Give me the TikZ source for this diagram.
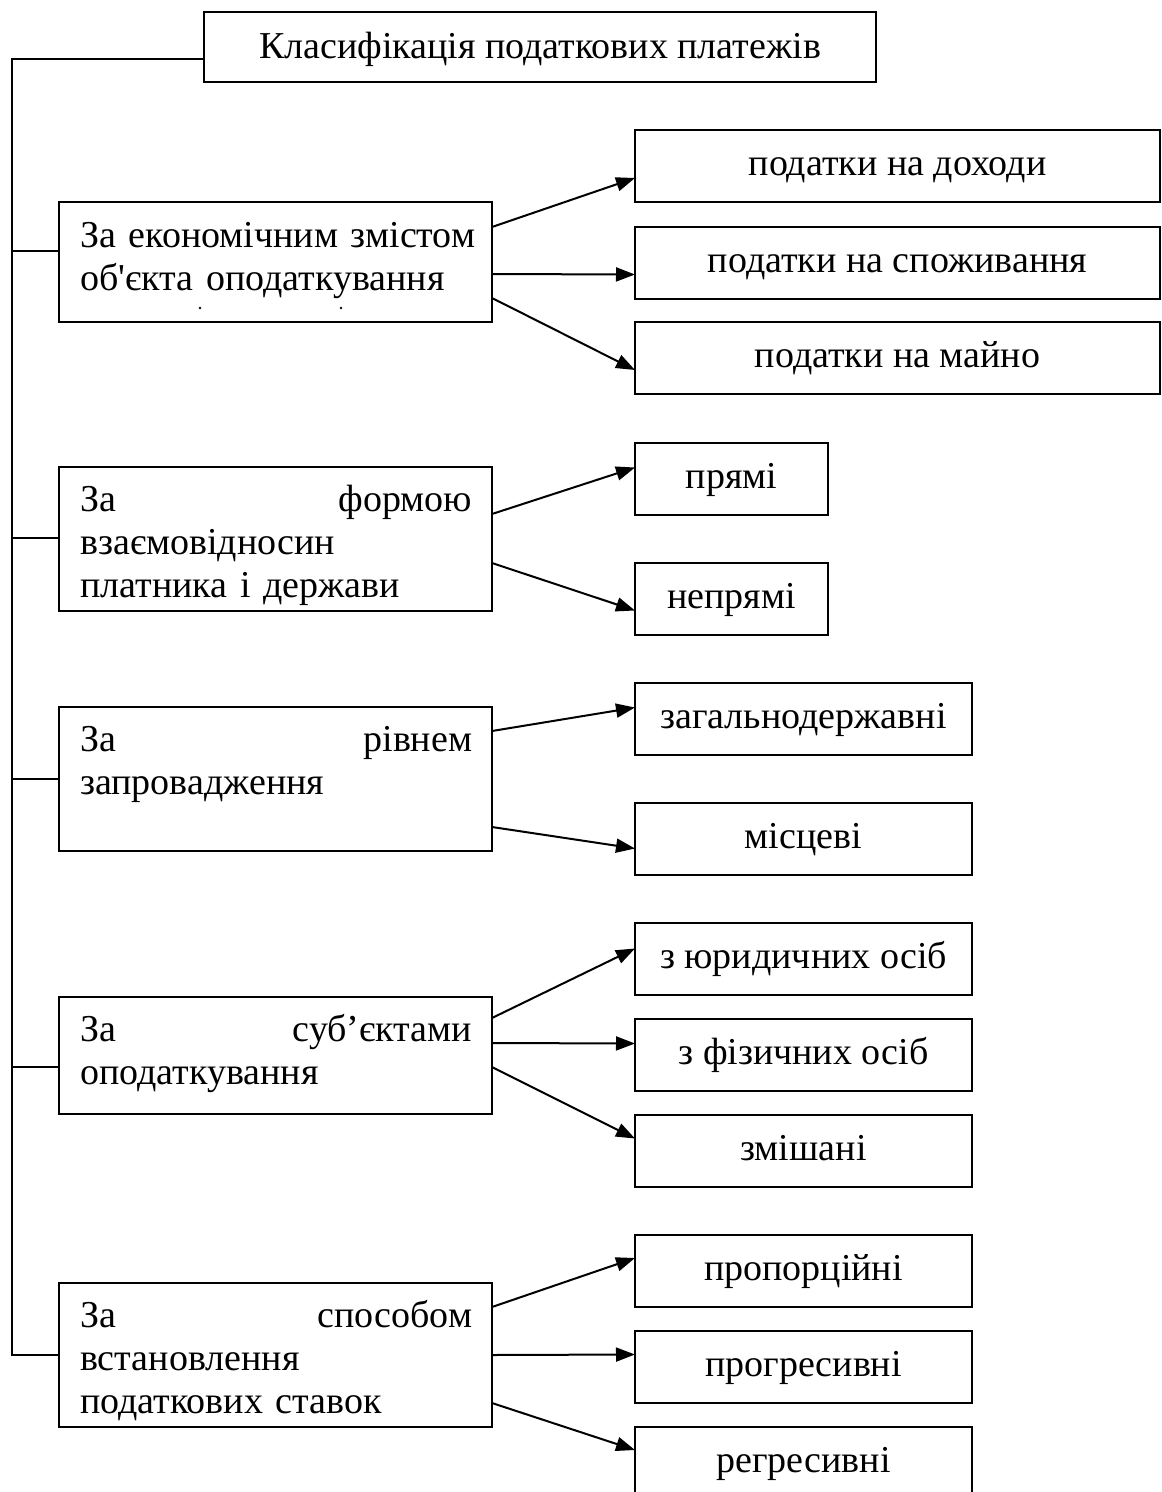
\documentclass[tikz,border=0pt]{standalone}
\usepackage{fontspec}
\setmainfont{Liberation Serif}
\usetikzlibrary{arrows.meta}
\newcommand\fsz{\fontsize{38}{43}\selectfont}
\newcommand\jline[2]{\noindent\hbox to 392pt{#1\hfill #2}}
\begin{document}
\begin{tikzpicture}[x=1pt,y=-1pt,
  boxr/.style={draw, line width=2pt, inner sep=0pt, outer sep=0pt, anchor=north west, font=\fsz, align=center},
  cbox/.style={boxr, minimum width=433pt},
  rbox/.style={boxr, minimum height=72pt, text height=27pt, text depth=9pt},
  ctext/.style={anchor=base west, inner sep=0pt, font=\fsz, text width=392pt, align=left},
  conn/.style={line width=2pt},
  arr/.style={line width=2pt, -{Triangle[length=19pt,width=14pt]}}
]
\useasboundingbox (0,0) rectangle (1162,1492);
\fill[white] (0,0) rectangle (1162,1492);
\clip (0,0) rectangle (1162,1492);

% title
\node[boxr, minimum width=672pt, minimum height=70pt, text height=29pt, text depth=7pt] (top) at (204,12) {Класифікація податкових платежів};

% category boxes
\node[cbox, minimum height=120pt] (c1) at (59,202) {};
\node[cbox, minimum height=144pt] (c2) at (59,467) {};
\node[cbox, minimum height=144pt] (c3) at (59,707) {};
\node[cbox, minimum height=117pt] (c4) at (59,997) {};
\node[cbox, minimum height=144pt] (c5) at (59,1283) {};

\node[ctext] (c1t) at (80,247) {\noindent\hbox to 388pt{За економічним змістом}\\об\textquotesingle єкта оподаткування};
\node[ctext] (c2t) at (80,511) {\jline{За}{формою}\\взаємовідносин\\платника і держави};
\node[ctext] (c3t) at (80,751) {\jline{За}{рівнем}\\запровадження};
\node[ctext] (c4t) at (80,1041) {\jline{За}{суб’єктами}\\оподаткування};
\node[ctext] (c5t) at (80,1327) {\jline{За}{способом}\\встановлення\\податкових ставок};
\fill (200,308) circle (1.4pt);
\fill (341,308) circle (1.4pt);

% right boxes
\node[rbox, minimum width=525pt] (r11) at (635,130) {податки на доходи};
\node[rbox, minimum width=525pt] (r12) at (635,227) {податки на споживання};
\node[rbox, minimum width=525pt] (r13) at (635,322) {податки на майно};
\node[rbox, minimum width=193pt] (r21) at (635,443) {прямі};
\node[rbox, minimum width=193pt] (r22) at (635,563) {непрямі};
\node[rbox, minimum width=337pt] (r31) at (635,683) {загальнодержавні};
\node[rbox, minimum width=337pt] (r32) at (635,803) {місцеві};
\node[rbox, minimum width=337pt] (r41) at (635,923) {з юридичних осіб};
\node[rbox, minimum width=337pt] (r42) at (635,1019) {з фізичних осіб};
\node[rbox, minimum width=337pt] (r43) at (635,1115) {змішані};
\node[rbox, minimum width=337pt] (r51) at (635,1235) {пропорційні};
\node[rbox, minimum width=337pt] (r52) at (635,1331) {прогресивні};
\node[rbox, minimum width=337pt] (r53) at (635,1427) {регресивні};

% trunk
\coordinate (tk0) at (12,59);
\coordinate (b1) at (12,251);
\coordinate (b2) at (12,538);
\coordinate (b3) at (12,779);
\coordinate (b4) at (12,1067);
\coordinate (b5) at (12,1355);
\draw[conn] ([yshift=-12pt]top.west) -- (tk0) -- (b5) -- (b5 -| c5.west);
\draw[conn] (b1) -- (b1 -| c1.west);
\draw[conn] (b2) -- (b2 -| c2.west);
\draw[conn] (b3) -- (b3 -| c3.west);
\draw[conn] (b4) -- (b4 -| c4.west);

% arrows
\draw[arr] ([yshift=35pt]c1.east) -- ([yshift=-12pt]r11.west);
\draw[arr] ([yshift=-12pt]c1.east) -- ([yshift=-11.5pt]r12.west);
\draw[arr] ([yshift=-36pt]c1.east) -- ([yshift=-12pt]r13.west);

\draw[arr] ([yshift=25pt]c2.east) -- ([yshift=11.5pt]r21.west);
\draw[arr] ([yshift=-24pt]c2.east) -- ([yshift=-11.5pt]r22.west);

\draw[arr] ([yshift=48pt]c3.east) -- ([yshift=11.5pt]r31.west);
\draw[arr] ([yshift=-48pt]c3.east) -- ([yshift=-9.5pt]r32.west);

\draw[arr] ([yshift=37.5pt]c4.east) -- ([yshift=10.5pt]r41.west);
\draw[arr] ([yshift=12.5pt]c4.east) -- ([yshift=11.5pt]r42.west);
\draw[arr] ([yshift=-11.5pt]c4.east) -- ([yshift=12.5pt]r43.west);

\draw[arr] ([yshift=48pt]c5.east) -- ([yshift=13pt]r51.west);
\draw[arr] (c5.east) -- ([yshift=12.5pt]r52.west);
\draw[arr] ([yshift=-48pt]c5.east) -- ([yshift=13pt]r53.west);
\end{tikzpicture}
\end{document}
